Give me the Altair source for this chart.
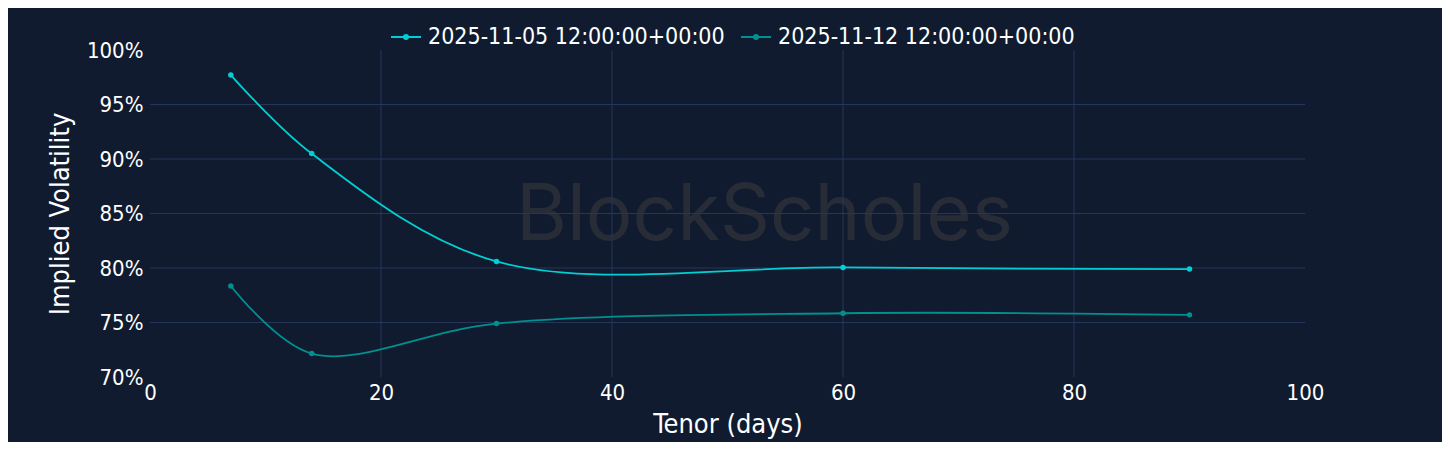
import altair as alt
import pandas as pd

tenor = [7, 14, 30, 60, 90]
series_a_name = "2025-11-05 12:00:00+00:00"
series_b_name = "2025-11-12 12:00:00+00:00"
series_a = [97.7, 90.5, 80.6, 80.05, 79.9]
series_b = [78.35, 72.15, 74.9, 75.85, 75.7]
y_grid = [75, 80, 85, 90, 95]
x_grid = [20, 40, 60, 80]

rows = []
for t, a in zip(tenor, series_a):
    rows.append({"tenor": t, "iv": a, "series": series_a_name})
for t, b in zip(tenor, series_b):
    rows.append({"tenor": t, "iv": b, "series": series_b_name})
df = pd.DataFrame(rows)

FONT = "DejaVu Sans Condensed"
BG = "#101b2f"
GRID = "#25365a"

xs = alt.Scale(domain=[0, 100], nice=False)
ys = alt.Scale(domain=[70, 100], nice=False)
legend_symbol = "M-1,0L1,0M-0.133,0a0.133,0.133 0 1,0 0.266,0a0.133,0.133 0 1,0 -0.266,0"
color = alt.Color(
    "series:N",
    scale=alt.Scale(domain=[series_a_name, series_b_name], range=["#00d0d4", "#00908f"]),
    legend=alt.Legend(
        title=None, orient="none", direction="horizontal", legendX=240, legendY=-29,
        symbolType=legend_symbol, symbolStrokeWidth=2, symbolSize=900,
        labelFont=FONT, labelFontSize=23, labelColor="#ffffff", columnPadding=12,
        labelOffset=6, labelLimit=0,
    ),
)

hgrid = alt.Chart(pd.DataFrame({"v": y_grid})).mark_rule(color=GRID, strokeWidth=1).encode(
    y=alt.Y("v:Q", scale=ys)
)
vgrid = alt.Chart(pd.DataFrame({"v": x_grid})).mark_rule(color=GRID, strokeWidth=1).encode(
    x=alt.X("v:Q", scale=xs)
)
watermark = alt.Chart(pd.DataFrame({"t": ["BlockScholes"], "x": [53.2], "y": [84.7]})).mark_text(
    font="Inter", fontSize=78, color="#272c37"
).encode(x=alt.X("x:Q", scale=xs), y=alt.Y("y:Q", scale=ys), text="t:N")

base = alt.Chart(df).encode(
    x=alt.X("tenor:Q", scale=xs, title="Tenor (days)",
            axis=alt.Axis(values=[0, 20, 40, 60, 80, 100], grid=False, domain=False, ticks=False,
                          labelFlush=False,
                          labelFont=FONT, labelFontSize=22, labelColor="#ffffff", labelPadding=5,
                          titleFont=FONT, titleFontSize=27, titleColor="#ffffff", titleFontWeight="normal",
                          titlePadding=8)),
    y=alt.Y("iv:Q", scale=ys, title="Implied Volatility",
            axis=alt.Axis(values=[70, 75, 80, 85, 90, 95, 100], grid=False, domain=False, ticks=False,
                          labelFlush=False,
                          labelExpr="datum.value + '%'",
                          labelFont=FONT, labelFontSize=22, labelColor="#ffffff", labelPadding=7,
                          titleFont=FONT, titleFontSize=27, titleColor="#ffffff", titleFontWeight="normal",
                          titlePadding=12)),
    color=color,
)
lines = base.mark_line(interpolate="catmull-rom", strokeWidth=1.8)
points = base.mark_point(filled=True, size=30, opacity=1)

chart = alt.layer(watermark, hgrid, vgrid, lines, points).properties(
    width=1155, height=327,
    autosize=alt.AutoSizeParams(type="none"),
    padding={"left": 142, "top": 42, "right": 137, "bottom": 65},
    background=BG,
).configure_view(stroke=None)

chart.save("out.html", embed_options={"renderer": "svg", "actions": False})
